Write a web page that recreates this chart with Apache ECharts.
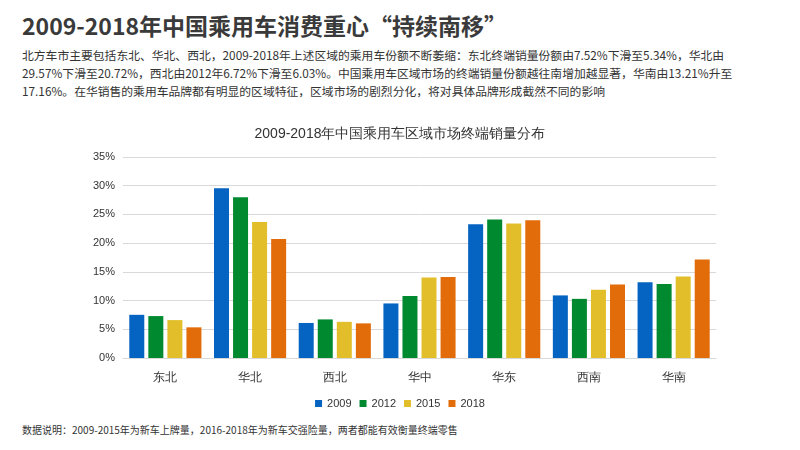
<!DOCTYPE html><html><head><meta charset="utf-8"><script src="https://cdn.jsdelivr.net/npm/echarts@6/dist/echarts.min.js"></script>
<style>body{margin:0;font-family:"Noto Sans CJK SC",sans-serif}#t{position:absolute;left:22px;top:8px;font-size:23px;font-weight:bold;color:#3a3a3a}#d{position:absolute;left:22px;top:46px;width:790px;font-size:11.8px;line-height:18px;color:#333;white-space:nowrap}#n{position:absolute;left:22px;top:422px;font-size:10px;color:#333}</style></head><body>
<div id="t">2009-2018年中国乘用车消费重心“持续南移”</div>
<div id="d">北方车市主要包括东北、华北、西北，2009-2018年上述区域的乘用车份额不断萎缩：东北终端销量份额由7.52%下滑至5.34%，华北由<br>29.57%下滑至20.72%，西北由2012年6.72%下滑至6.03%。中国乘用车区域市场的终端销量份额越往南增加越显著，华南由13.21%升至<br>17.16%。在华销售的乘用车品牌都有明显的区域特征，区域市场的剧烈分化，将对具体品牌形成截然不同的影响</div>
<div id="n">数据说明：2009-2015年为新车上牌量，2016-2018年为新车交强险量，两者都能有效衡量终端零售</div>
<div id="c" style="position:absolute;left:0;top:110px;width:800px;height:310px"></div>
<script>
const categories=['东北','华北','西北','华中','华东','西南','华南'];
const s2009=[7.52,29.57,6.1,9.5,23.3,10.9,13.21];
const s2012=[7.3,28.0,6.72,10.8,24.1,10.3,12.9];
const s2015=[6.6,23.7,6.3,14.0,23.4,11.9,14.2];
const s2018=[5.34,20.72,6.03,14.1,24.0,12.8,17.16];
const names=['2009','2012','2015','2018'];
const colors=['#0563c1','#00892f','#e2bf2a','#e36c0a'];
const ch=echarts.init(document.getElementById('c'));
ch.setOption({
title:{text:'2009-2018年中国乘用车区域市场终端销量分布',left:'center',top:12,textStyle:{fontSize:14,fontWeight:'normal',color:'#333'}},
legend:{bottom:6,itemWidth:7,itemHeight:7,itemGap:8,textStyle:{fontSize:11,color:'#333'},icon:'rect'},
grid:{left:123,right:84,top:47,bottom:62},
xAxis:{type:'category',data:categories,axisTick:{show:false},axisLine:{lineStyle:{color:'#d9d9d9'}},axisLabel:{color:'#333',fontSize:12,margin:14}},
yAxis:{type:'value',min:0,max:35,interval:5,axisLabel:{formatter:'{value}%',color:'#333',fontSize:11},splitLine:{lineStyle:{color:'#d9d9d9'}}},
series:[s2009,s2012,s2015,s2018].map((d,i)=>({name:names[i],type:'bar',data:d,barWidth:15,barGap:'27%',itemStyle:{color:colors[i]}}))
});
</script></body></html>
